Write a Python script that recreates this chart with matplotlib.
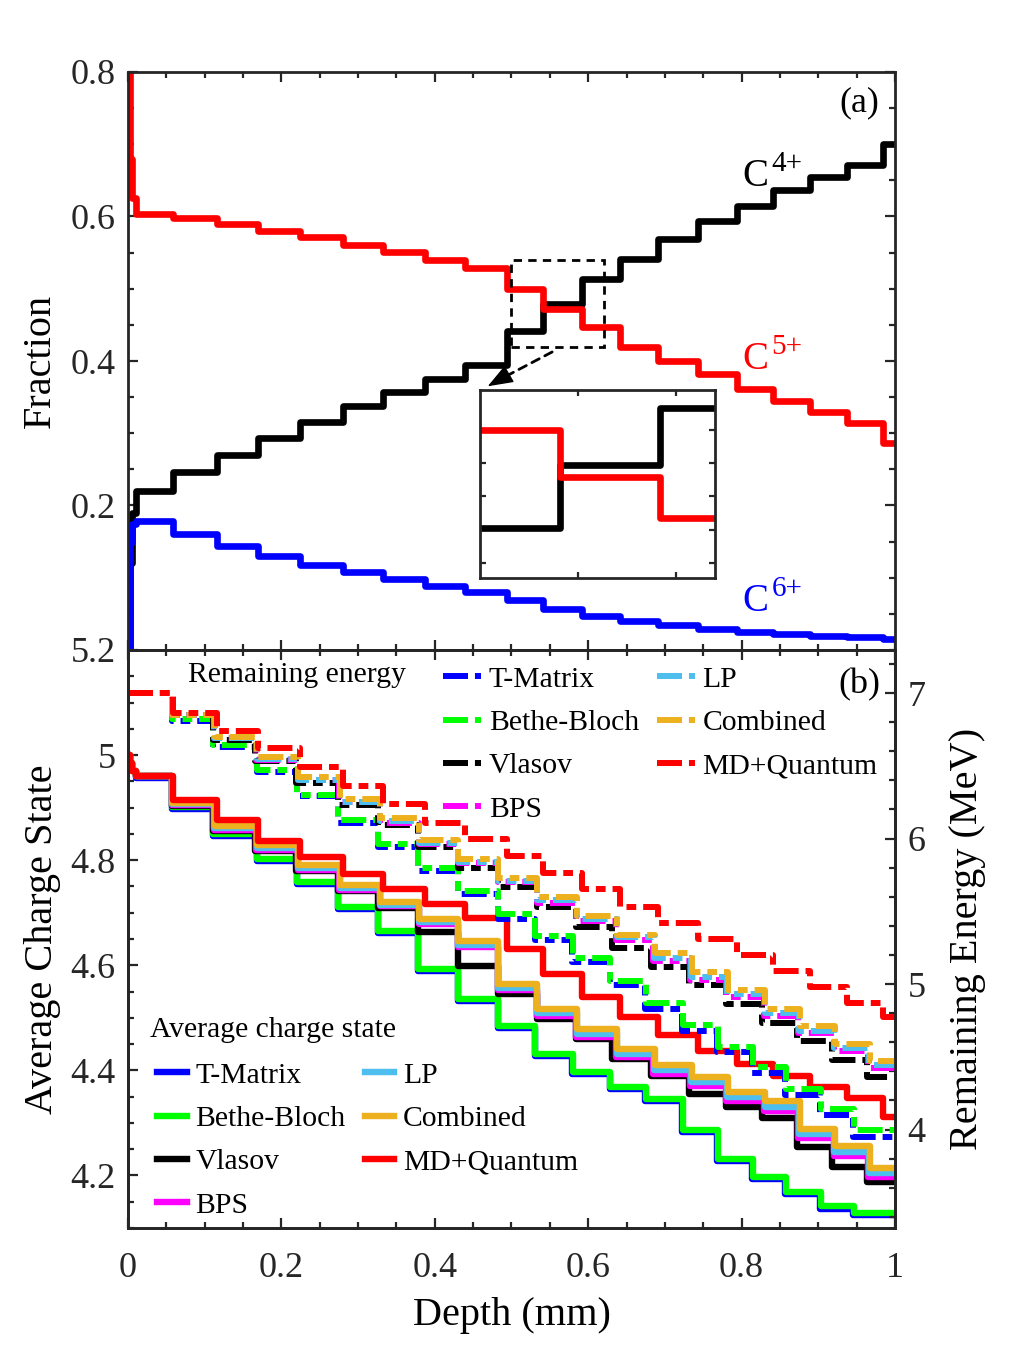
import matplotlib
matplotlib.use("Agg")
import matplotlib.pyplot as plt
from matplotlib.ticker import MultipleLocator, FuncFormatter
from matplotlib.patches import Rectangle
from matplotlib.lines import Line2D

plt.rcParams["font.family"] = ["Liberation Serif", "DejaVu Serif"]
plt.rcParams["lines.scale_dashes"] = False

W, H = 1020, 1362
AXC = "#262626"

# ---------------- (a) charge-state fractions ----------------
frac_steps = [0.059, 0.116, 0.170, 0.224, 0.280, 0.333, 0.387, 0.439, 0.494, 0.541,
              0.592, 0.641, 0.691, 0.743, 0.794, 0.841, 0.889, 0.937, 0.984]
c4_frac = [0.220, 0.246, 0.270, 0.293, 0.316, 0.338, 0.357, 0.375, 0.394, 0.441,
           0.479, 0.513, 0.541, 0.569, 0.594, 0.614, 0.637, 0.655, 0.671, 0.700]
c5_frac = [0.603, 0.598, 0.590, 0.580, 0.571, 0.560, 0.551, 0.540, 0.529, 0.500,
           0.472, 0.447, 0.419, 0.400, 0.382, 0.361, 0.345, 0.329, 0.314, 0.286]
c6_frac = [0.178, 0.160, 0.144, 0.130, 0.118, 0.108, 0.098, 0.089, 0.080, 0.069,
           0.057, 0.047, 0.040, 0.035, 0.029, 0.025, 0.022, 0.019, 0.018, 0.015]
# fast equilibration right at the entrance
entry_x = [0.0, 0.002, 0.005, 0.010]
c4_entry = [0.0, 0.12, 0.19]
c5_entry = [0.85, 0.68, 0.625]
c6_entry = [0.0, 0.15, 0.175]

# ---------------- (b) average charge state / remaining energy ----------------
models = ["T-Matrix", "Bethe-Bloch", "Vlasov", "BPS", "LP", "Combined", "MD+Quantum"]
colors = ["#0000ff", "#00ff00", "#000000", "#ff00ff", "#4dbeee", "#edb120", "#ff0000"]

steps_tmatrix = [0.057, 0.111, 0.168, 0.220, 0.274, 0.326, 0.378, 0.430, 0.482, 0.531,
                 0.579, 0.628, 0.674, 0.722, 0.768, 0.814, 0.857, 0.902, 0.945]
steps_bethe = [0.057, 0.111, 0.168, 0.220, 0.274, 0.326, 0.378, 0.430, 0.482, 0.531,
               0.580, 0.629, 0.675, 0.723, 0.769, 0.815, 0.858, 0.903, 0.946]
steps_vlasov = [0.057, 0.111, 0.166, 0.219, 0.274, 0.326, 0.378, 0.430, 0.482, 0.533,
                0.584, 0.631, 0.682, 0.731, 0.780, 0.827, 0.872, 0.918, 0.963]
steps_bps = [0.057, 0.112, 0.167, 0.221, 0.275, 0.328, 0.379, 0.430, 0.482, 0.533,
             0.584, 0.636, 0.685, 0.733, 0.780, 0.829, 0.874, 0.920, 0.965]
steps_lp = [0.057, 0.112, 0.168, 0.222, 0.276, 0.329, 0.379, 0.430, 0.482, 0.533,
            0.585, 0.637, 0.686, 0.734, 0.781, 0.830, 0.875, 0.921, 0.966]
steps_combined = [0.057, 0.113, 0.168, 0.222, 0.276, 0.329, 0.379, 0.430, 0.482, 0.533,
                  0.585, 0.638, 0.687, 0.735, 0.782, 0.831, 0.876, 0.922, 0.967]
steps_mdq = [0.059, 0.116, 0.170, 0.224, 0.280, 0.333, 0.387, 0.439, 0.494, 0.541,
             0.592, 0.641, 0.691, 0.743, 0.794, 0.841, 0.889, 0.937, 0.984]

q_tmatrix = [4.957, 4.898, 4.846, 4.799, 4.755, 4.707, 4.662, 4.589, 4.532, 4.480,
             4.427, 4.393, 4.364, 4.341, 4.282, 4.227, 4.194, 4.164, 4.137, 4.125]
q_bethe = [4.960, 4.902, 4.850, 4.803, 4.759, 4.711, 4.666, 4.593, 4.536, 4.484,
           4.431, 4.397, 4.368, 4.345, 4.286, 4.231, 4.198, 4.168, 4.141, 4.129]
q_vlasov = [4.960, 4.903, 4.855, 4.818, 4.780, 4.742, 4.709, 4.664, 4.599, 4.545,
            4.498, 4.460, 4.421, 4.389, 4.355, 4.330, 4.310, 4.255, 4.217, 4.187]
q_bps = [4.960, 4.905, 4.858, 4.820, 4.781, 4.743, 4.712, 4.679, 4.634, 4.552,
         4.503, 4.464, 4.425, 4.394, 4.371, 4.342, 4.323, 4.271, 4.237, 4.197]
q_lp = [4.960, 4.906, 4.861, 4.823, 4.785, 4.747, 4.715, 4.683, 4.639, 4.557,
        4.509, 4.470, 4.431, 4.400, 4.378, 4.349, 4.330, 4.278, 4.244, 4.204]
q_combined = [4.960, 4.908, 4.865, 4.828, 4.790, 4.752, 4.720, 4.689, 4.647, 4.564,
              4.517, 4.479, 4.440, 4.410, 4.388, 4.359, 4.341, 4.288, 4.256, 4.215]
q_mdq = [4.960, 4.914, 4.876, 4.837, 4.807, 4.774, 4.746, 4.717, 4.690, 4.631,
         4.584, 4.540, 4.502, 4.467, 4.437, 4.412, 4.390, 4.368, 4.347, 4.312]
q_entry_x = [0.0, 0.002, 0.005, 0.010]
q_entry = [5.0, 4.985, 4.97]

e_tmatrix = [7.00, 6.81, 6.63, 6.46, 6.29, 6.11, 5.94, 5.78, 5.62, 5.45,
             5.30, 5.15, 4.99, 4.83, 4.68, 4.53, 4.39, 4.24, 4.10, 3.95]
e_bethe = [7.00, 6.82, 6.64, 6.47, 6.30, 6.13, 5.96, 5.80, 5.64, 5.48,
           5.33, 5.18, 5.02, 4.87, 4.72, 4.57, 4.43, 4.28, 4.14, 4.00]
e_vlasov = [7.00, 6.85, 6.68, 6.53, 6.38, 6.23, 6.09, 5.94, 5.80, 5.67,
            5.53, 5.39, 5.25, 5.12, 4.99, 4.86, 4.73, 4.61, 4.48, 4.36]
e_bps = [7.00, 6.85, 6.69, 6.54, 6.40, 6.25, 6.11, 5.96, 5.83, 5.70,
         5.56, 5.43, 5.30, 5.16, 5.03, 4.91, 4.78, 4.66, 4.54, 4.42]
e_lp = [7.00, 6.85, 6.69, 6.55, 6.40, 6.25, 6.12, 5.97, 5.84, 5.71,
        5.58, 5.45, 5.32, 5.18, 5.05, 4.93, 4.80, 4.68, 4.56, 4.44]
e_combined = [7.00, 6.85, 6.70, 6.56, 6.42, 6.27, 6.14, 5.99, 5.86, 5.73,
              5.60, 5.47, 5.34, 5.21, 5.08, 4.96, 4.83, 4.71, 4.59, 4.47]
e_mdq = [7.00, 6.86, 6.74, 6.62, 6.49, 6.36, 6.24, 6.11, 6.00, 5.88,
         5.76, 5.65, 5.53, 5.42, 5.31, 5.20, 5.09, 4.98, 4.87, 4.77]

all_steps = [steps_tmatrix, steps_bethe, steps_vlasov, steps_bps, steps_lp, steps_combined, steps_mdq]
all_q = [q_tmatrix, q_bethe, q_vlasov, q_bps, q_lp, q_combined, q_mdq]
all_e = [e_tmatrix, e_bethe, e_vlasov, e_bps, e_lp, e_combined, e_mdq]

LW_A = 4.8   # panel (a) lines
LW_Q = 4.6   # solid charge-state lines
LW_E = 4.3   # dash-dot energy lines
DASH = (18, 5, 7, 5)
DASH_BOX = (6, 4.5)


def stair(ax, first_x, first_y, steps, levels, **kw):
    # staircase: levels[0] starts at first_x[-1], levels[i] at steps[i-1]
    x = list(first_x) + list(steps) + [1.0]
    y = list(first_y) + list(levels) + [levels[-1]]
    return ax.plot(x, y, drawstyle="steps-post", solid_joinstyle="round", **kw)[0]


def style(ax, labelsize=26):
    for s in ax.spines.values():
        s.set_linewidth(2.0)
        s.set_color(AXC)
    ax.tick_params(which="both", direction="in", color=AXC, width=1.6,
                   labelsize=labelsize, labelcolor=AXC)
    ax.tick_params(which="major", length=7)
    ax.tick_params(which="minor", length=4)


def charge_label(ax, x, y, sup, color):
    ax.text(x, y, "C", color=color, fontsize=28)
    ax.annotate(sup, xy=(x, y), xycoords="data", xytext=(21, 11),
                textcoords="offset points", color=color, fontsize=21)


fmt = FuncFormatter(lambda v, p: "%g" % round(v, 3))

fig = plt.figure(figsize=(W / 100, H / 100), dpi=100)

# ---------------- panel (a) ----------------
axa = fig.add_axes([128 / W, 1 - 650 / H, 767 / W, 578 / H])
stair(axa, entry_x, c4_entry, frac_steps, c4_frac, color="k", lw=LW_A)
stair(axa, entry_x, c5_entry, frac_steps, c5_frac, color="#ff0000", lw=LW_A)
stair(axa, entry_x, c6_entry, frac_steps, c6_frac, color="#0000ff", lw=LW_A)
axa.set_xlim(0, 1)
axa.set_ylim(0, 0.8)
axa.xaxis.set_major_locator(MultipleLocator(0.2))
axa.xaxis.set_minor_locator(MultipleLocator(0.05))
axa.set_yticks([0.2, 0.4, 0.6, 0.8])
axa.yaxis.set_minor_locator(MultipleLocator(0.05))
axa.yaxis.set_major_formatter(fmt)
style(axa)
axa.tick_params(which="both", top=True, right=True, labelbottom=False, pad=9)
axa.set_ylabel("Fraction", fontsize=29)
axa.yaxis.set_label_coords(-0.09, 0.5)

charge_label(axa, 0.801, 0.642, "4+", "k")
charge_label(axa, 0.801, 0.389, "5+", "#ff0000")
charge_label(axa, 0.801, 0.054, "6+", "#0000ff")
axa.text(0.954, 0.758, "(a)", fontsize=26, ha="center", va="center")

axa.add_patch(Rectangle((0.5, 0.42), 0.12, 0.12, fill=False, ec="k", lw=2.0,
                        ls=(0, DASH_BOX), zorder=5))
# dashed pointer from the box to the inset, solid head at the end
axa.annotate("", xy=(0.484, 0.374), xytext=(0.553, 0.4125),
             arrowprops=dict(arrowstyle="-", ls=(0, DASH_BOX), lw=2.0, color="k",
                             shrinkA=0, shrinkB=0))
axa.annotate("", xy=(0.469, 0.365), xytext=(0.492, 0.379),
             arrowprops=dict(arrowstyle="-|>,head_length=0.8,head_width=0.3",
                             lw=1.0, color="k", shrinkA=0, shrinkB=0,
                             mutation_scale=20))

# inset
axi = fig.add_axes([480 / W, 1 - 578 / H, 235 / W, 188 / H])
stair(axi, entry_x, c4_entry, frac_steps, c4_frac, color="k", lw=LW_A)
stair(axi, entry_x, c5_entry, frac_steps, c5_frac, color="#ff0000", lw=LW_A)
axi.set_xlim(0.5, 0.62)
axi.set_ylim(0.411, 0.524)
axi.set_xticks([0.55, 0.6])
axi.set_yticks([0.42, 0.44, 0.46, 0.48, 0.50])
style(axi)
axi.tick_params(which="both", top=True, right=True, labelbottom=False,
                labelleft=False, length=4)

# ---------------- panel (b) ----------------
axb = fig.add_axes([128 / W, 1 - 1228 / H, 767 / W, 578 / H])
axe = axb.twinx()
q_handles, e_handles = [], []
for name, c, st, q, e in zip(models, colors, all_steps, all_q, all_e):
    stair(axb, q_entry_x, q_entry, st, q, color=c, lw=LW_Q)
    stair(axe, [0.0], [], st, e, color=c, lw=LW_E, dashes=DASH, dash_capstyle="butt")
    q_handles.append(Line2D([], [], color=c, lw=LW_Q))
    e_handles.append(Line2D([], [], color=c, lw=LW_E, dashes=DASH, dash_capstyle="butt"))

axb.set_xlim(0, 1)
axb.set_ylim(4.1, 5.2)
axe.set_ylim(3.323, 7.296)
axb.xaxis.set_major_locator(MultipleLocator(0.2))
axb.xaxis.set_minor_locator(MultipleLocator(0.05))
axb.yaxis.set_major_locator(MultipleLocator(0.2))
axb.yaxis.set_minor_locator(MultipleLocator(0.05))
axe.yaxis.set_major_locator(MultipleLocator(1))
axe.yaxis.set_minor_locator(MultipleLocator(0.2))
for a in (axb.xaxis, axb.yaxis, axe.yaxis):
    a.set_major_formatter(fmt)
style(axb)
style(axe)
axb.tick_params(which="both", top=True, right=False, pad=9)
axb.tick_params(axis="x", pad=17)
axe.tick_params(which="both", right=True, pad=9)
axb.set_xlabel("Depth (mm)", fontsize=29)
axb.xaxis.set_label_coords(0.5, -0.12)
axb.set_ylabel("Average Charge State", fontsize=29)
axb.yaxis.set_label_coords(-0.088, 0.5)
axe.set_ylabel("Remaining Energy (MeV)", fontsize=29)
axe.yaxis.set_label_coords(1.071, 0.5)
axe.text(0.954, 5.133, "(b)", fontsize=26, ha="center", va="center",
         transform=axb.transData)

leg_e = axe.legend(e_handles, models, loc="upper left", ncol=2, frameon=False,
                   bbox_to_anchor=(443 / W, 1 - 666 / H), bbox_transform=fig.transFigure,
                   fontsize=21.3, handlelength=1.3, handletextpad=0.25,
                   columnspacing=0.6, labelspacing=0.56, borderpad=0, borderaxespad=0)
axe.add_artist(leg_e)
leg_q = axe.legend(q_handles, models, loc="upper left", ncol=2, frameon=False,
                   bbox_to_anchor=(157 / W, 1 - 1062 / H), bbox_transform=fig.transFigure,
                   fontsize=21.3, handlelength=1.0, handletextpad=0.3,
                   columnspacing=0.64, labelspacing=0.56, borderpad=0, borderaxespad=0)
fig.text(188 / W, 1 - 675 / H, "Remaining energy", fontsize=21.3, ha="left", va="center")
fig.text(150 / W, 1 - 1030 / H, "Average charge state", fontsize=21.3, ha="left", va="center")

fig.savefig("out.png", dpi=100)
